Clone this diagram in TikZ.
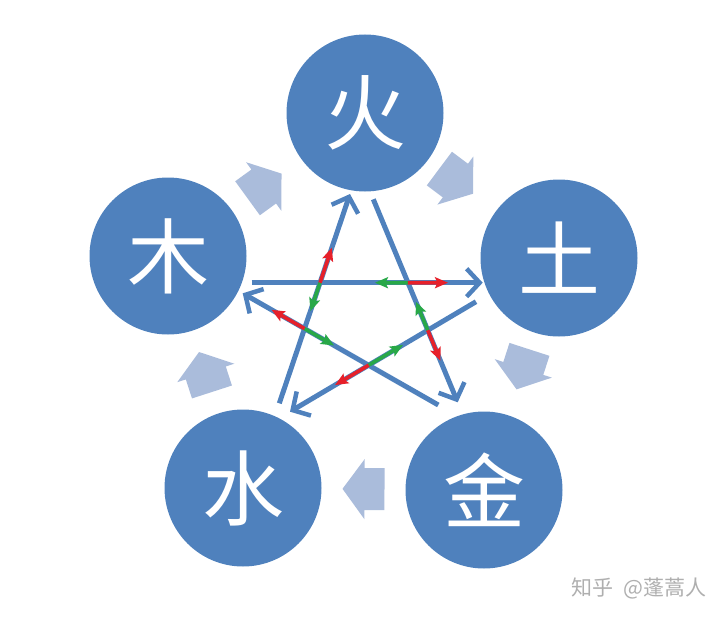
\documentclass[tikz,border=0pt]{standalone}
\usepackage{fontspec}
\newfontfamily\cjk{Noto Sans CJK SC}
\usetikzlibrary{arrows.meta,calc}
\definecolor{wxblue}{RGB}{79,129,189}
\definecolor{wxlight}{RGB}{170,188,219}
\definecolor{wxred}{RGB}{230,32,42}
\definecolor{wxgreen}{RGB}{40,168,72}
\definecolor{wxgray}{RGB}{175,175,175}
\begin{document}
\begin{tikzpicture}[x=1pt,y=-1pt,
  element/.style={circle,fill=wxblue,minimum size=157pt,inner sep=0pt,text=white,font=\cjk\fontsize{82}{82}\selectfont},
  starline/.style={draw=wxblue,line width=5pt,-{Straight Barb[length=13pt,width=28pt,line width=4.5pt]}},
  rg/.style={line width=3.6pt,-{Stealth[length=13pt,width=11pt,inset=2.5pt]}},
  blockarrow/.pic={\fill[wxlight] (-21,-21) -- (-1,-21) -- (-1,-30) -- (21,0) -- (-1,30) -- (-1,21) -- (-21,21) -- cycle;}
]
\useasboundingbox (0,0) rectangle (726,618);
% elements
\node[element] (huo) at (365,113) {火};
\node[element] (tu)  at (559,258) {土};
\node[element] (jin) at (484,490) {金};
\node[element] (shui) at (243,488) {水};
\node[element] (mu)  at (168,256) {木};
% generating cycle block arrows
\path let \p1=($(huo)-(mu)$), \n1={atan2(\y1,\x1)} in ($(mu)!0.49!(huo)$) pic[rotate=\n1] {blockarrow};
\path let \p1=($(tu)-(huo)$), \n1={atan2(\y1,\x1)} in ($(huo)!0.47!(tu)$) pic[rotate=\n1] {blockarrow};
\path let \p1=($(jin)-(tu)$), \n1={atan2(\y1,\x1)} in ($(tu)!0.48!(jin)$) pic[rotate=\n1] {blockarrow};
\path let \p1=($(shui)-(jin)$), \n1={atan2(\y1,\x1)} in ($(jin)!0.5!(shui)$) pic[rotate=\n1] {blockarrow};
\path let \p1=($(mu)-(shui)$), \n1={atan2(\y1,\x1)} in ($(shui)!0.5!(mu)$) pic[rotate=\n1] {blockarrow};
% star end points
\coordinate (s1) at (279.3,403.3); \coordinate (e1) at (350,194);
\coordinate (s2) at (373.3,199.3); \coordinate (e2) at (457.7,402.3);
\coordinate (s3) at (251.7,282.7); \coordinate (e3) at (482.7,282.7);
\coordinate (s4) at (476,301.7);   \coordinate (e4) at (290,411.7);
\coordinate (s5) at (438.3,405);   \coordinate (e5) at (242.7,293.3);
\draw[starline] (s1) -- (e1);
\draw[starline] (s2) -- (e2);
\draw[starline] (s3) -- (e3);
\draw[starline] (s4) -- (e4);
\draw[starline] (s5) -- (e5);
% inner vertices
\coordinate (A) at (intersection of s1--e1 and s3--e3);
\coordinate (B) at (intersection of s2--e2 and s3--e3);
\coordinate (C) at (intersection of s2--e2 and s4--e4);
\coordinate (D) at (intersection of s4--e4 and s5--e5);
\coordinate (E) at (intersection of s5--e5 and s1--e1);
% red / green arrows
\draw[rg,wxgreen] (B) -- ($(B)!33pt!(A)$);
\draw[rg,wxred]   (B) -- ($(B)!40pt!(e3)$);
\draw[rg,wxgreen] (C) -- ($(C)!31pt!(B)$);
\draw[rg,wxred]   (C) -- ($(C)!33pt!(e2)$);
\draw[rg,wxgreen] (D) -- ($(D)!40pt!(C)$);
\draw[rg,wxred]   (D) -- ($(D)!39pt!(e4)$);
\draw[rg,wxgreen] (E) -- ($(E)!34pt!(D)$);
\draw[rg,wxred]   (E) -- ($(E)!38pt!(e5)$);
\draw[rg,wxgreen] (A) -- ($(A)!30pt!(E)$);
\draw[rg,wxred]   (A) -- ($(A)!37pt!(e1)$);
% watermark
\node[font=\cjk\fontsize{21}{21}\selectfont,text=wxgray] (mark) at (639,588) {知乎\ \ @蓬蒿人};
\end{tikzpicture}
\end{document}
